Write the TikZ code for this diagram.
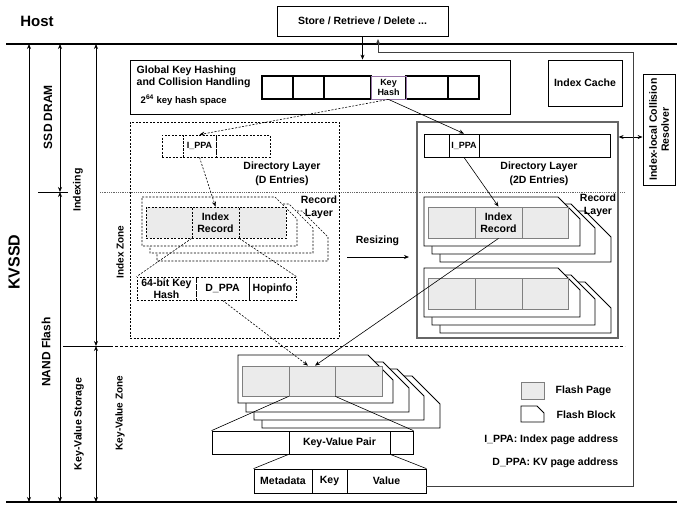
\documentclass[tikz,border=0pt]{standalone}
\usepackage{fontspec}
\setmainfont{Liberation Sans}
\usepackage{tikz}
\usetikzlibrary{
  arrows.meta,
  positioning,
  calc,
}

\definecolor{pagegray}{HTML}{EBEBEB}
\definecolor{edgegray}{HTML}{7F7F7F}
\definecolor{hashpurple}{HTML}{9673A6}

% flash block outline: [style]{left}{top}{right}{bottom}{chamfer}
\newcommand{\flashblk}[6][]{%
  \filldraw[fill=white,#1] (#2,#3) -- ({#4-#6},#3) -- (#4,{#3+#6})
    -- (#4,#5) -- (#2,#5) -- cycle;}

\begin{document}
\begin{tikzpicture}[
  x=1pt, y=-1pt,
  font=\bfseries\fontsize{10.5}{12}\selectfont,
  line width=0.8pt,
  every node/.style={align=center},
  box/.style={draw, inner sep=0pt},
  cell/.style={draw, inner sep=0pt, minimum height=23},
  dcell/.style={cell, dash pattern=on 2pt off 1.5pt},
  page/.style={draw=edgegray, fill=pagegray, inner sep=0pt, minimum height=31},
  dpage/.style={page, draw=black, dash pattern=on 2pt off 1.5pt},
  small/.style={font=\bfseries\fontsize{9}{10}\selectfont},
  vlabel/.style={rotate=90},
  arr/.style={-{Stealth[length=5pt,width=4pt]}},
  dimarr/.style={{Stealth[length=5pt,width=4pt]}-{Stealth[length=5pt,width=4pt]}},
  dline/.style={line width=0.6pt, dash pattern=on 2pt off 1.5pt},
]
\useasboundingbox (0,0) rectangle (677,504);

% host side
\node[font=\bfseries\fontsize{15}{18}\selectfont] (host) at (37,21) {Host};
\node[box, minimum width=171, minimum height=30] (store) at (362.5,21)
  {Store / Retrieve / Delete ...};
\draw[line width=1.1pt] (6,44) -- (677,44);
\draw[line width=1.1pt] (6,502) -- (677,502);

% dimension arrows on the left
\draw[dimarr] (29,44) -- (29,502);
\draw[dimarr] (60,44) -- (60,192);
\draw[dimarr] (60,192) -- (60,502);
\draw (38,192) -- (68,192);
\draw[dimarr] (96,44) -- (96,346);
\draw[dimarr] (96,346) -- (96,502);
\draw (63,346) -- (110,346);
\draw[black!60, densely dotted] (100,192) -- (625,192);
\draw[dash pattern=on 3pt off 2pt] (110,346) -- (625,346);

\node[vlabel, font=\bfseries\fontsize{16}{18}\selectfont] (kvssd) at (14,262) {KVSSD};
\node[vlabel, font=\bfseries\fontsize{12}{14}\selectfont] (dram) at (48,117) {SSD DRAM};
\node[vlabel, font=\bfseries\fontsize{12}{14}\selectfont] (nand) at (46,352) {NAND Flash};
\node[vlabel] (indexing) at (78,190) {Indexing};
\node[vlabel] (kvstore) at (79,424) {Key-Value Storage};
\node[vlabel, font=\bfseries\fontsize{10}{12}\selectfont] (izone) at (120,252) {Index Zone};
\node[vlabel, font=\bfseries\fontsize{10}{12}\selectfont] (kvzone) at (120,413) {Key-Value Zone};

% global key hashing
\node[box, minimum width=380, minimum height=54] (hashbox) at (320,87) {};
\node[anchor=west, align=left, font=\bfseries\fontsize{10.5}{11.6}\selectfont]
  (hashttl) at (133,77) {Global Key Hashing\\and Collision Handling};
\node[anchor=west, font=\bfseries\fontsize{9.5}{11}\selectfont] (hashspace) at (137,100)
  {2\textsuperscript{64} key hash space};
\foreach \nm/\a/\b in {h1/262/293, h2/293/324, h3/324/371, h5/406/448, h6/448/479}
  \node[cell, line width=1.2pt, minimum width=\b-\a] (\nm) at ({(\a+\b)/2},87.5) {};
\node[cell, draw=hashpurple, minimum width=35, small] (keyhash) at (388.5,87.5) {Key\\Hash};

\node[box, minimum width=74, minimum height=46] (idxcache) at (585,83) {Index Cache};
\node[box, minimum width=32, minimum height=111] (resolver) at (659,129.5) {};
\node[vlabel] (resolvertxt) at (resolver.center) {Index-local Collision\\Resolver};

% old index zone (dashed)
\node[box, dash pattern=on 2pt off 1.5pt, minimum width=209, minimum height=216]
  (idxzone) at (234.5,230) {};
\node[dcell, minimum width=21, minimum height=22] (ld1) at (172.5,146) {};
\node[dcell, minimum width=33, minimum height=22, small] (lippa) at (199.5,146) {I\_PPA};
\node[dcell, minimum width=54, minimum height=22] (ld3) at (243,146) {};
\node[font=\bfseries\fontsize{10.5}{13.5}\selectfont] (ldirlbl) at (282,174)
  {Directory Layer\\(D Entries)};

\flashblk[dline]{157}{211}{328}{261}{26}
\flashblk[dline]{150}{204}{313}{253}{24}
\flashblk[dline]{142}{197}{297}{246}{22}
\node[dpage, minimum width=46] (lp1) at (169,222.5) {};
\node[dpage, minimum width=47, font=\bfseries\fontsize{10.5}{12.5}\selectfont]
  (lrec) at (215.5,222.5) {Index\\Record};
\node[dpage, minimum width=47] (lp3) at (262.5,222.5) {};
\node[font=\bfseries\fontsize{10.5}{13}\selectfont] (lreclbl) at (319,207.5) {Record\\Layer};

\node[dcell, minimum width=59] (f1) at (166.5,288.5) {64-bit Key\\Hash};
\node[dcell, minimum width=53] (dppa) at (222.5,288.5) {D\_PPA};
\node[dcell, minimum width=47] (f3) at (272.5,288.5) {Hopinfo};
\draw[dline] (lrec.south west) -- (f1.north west);
\draw[dline] (lrec.south east) -- (f3.north east);

% resized index
\node[box, draw=black!60, line width=1.2pt, minimum width=201, minimum height=216]
  (newidx) at (517.5,230) {};
\node[cell, minimum width=25] (rd1) at (436.5,145.5) {};
\node[cell, minimum width=30, small] (rippa) at (464,145.5) {I\_PPA};
\node[cell, minimum width=131] (rd3) at (544.5,145.5) {};
\node[font=\bfseries\fontsize{10.5}{13.5}\selectfont] (rdirlbl) at (539,174)
  {Directory Layer\\(2D Entries)};

\flashblk{440}{211}{611}{262}{26}
\flashblk{432}{204}{595}{254}{24}
\flashblk{424}{197}{580}{246}{22}
\node[page, minimum width=47] (rp1) at (451.5,222.5) {};
\node[page, minimum width=47, font=\bfseries\fontsize{10.5}{12.5}\selectfont]
  (rrec) at (498.5,222.5) {Index\\Record};
\node[page, minimum width=46] (rp3) at (545,222.5) {};
\node[font=\bfseries\fontsize{10.5}{13}\selectfont] (rreclbl) at (598,205.5) {Record\\Layer};

\flashblk{440}{282}{611}{333}{26}
\flashblk{432}{275}{595}{325}{24}
\flashblk{424}{268}{580}{317}{22}
\foreach \nm/\c/\w in {rq1/451.5/47, rq2/498.5/47, rq3/545/46}
  \node[page, minimum width=\w] (\nm) at (\c,293.5) {};

\node (resizing) at (377.5,241) {Resizing};
\coordinate (rsA) at (347,257);
\coordinate (rsB) at (409,257);
\draw[arr] (rsA) -- (rsB);

% key-value zone
\flashblk{262}{376}{440}{428}{28}
\flashblk{254}{369}{424}{420}{27}
\flashblk{246}{362}{409}{412}{26}
\flashblk{238}{355}{393}{403}{25}
\node[page, minimum width=47, minimum height=30] (kvp1) at (265.5,381) {};
\node[page, minimum width=46, minimum height=30] (kvmid) at (312,381) {};
\node[page, minimum width=47, minimum height=30] (kvp3) at (358.5,381) {};

\node[cell, minimum width=77] (kv1) at (250.5,442.5) {};
\node[cell, minimum width=101] (kvpair) at (339.5,442.5) {Key-Value Pair};
\node[cell, minimum width=23] (kv3) at (401.5,442.5) {};
\draw[line width=0.6pt] (kvmid.south west) -- (kv1.north west);
\draw[line width=0.6pt] (kvmid.south east) -- (kv3.north east);

\node[cell, minimum width=58, minimum height=24] (meta) at (283,481) {Metadata};
\node[cell, minimum width=35, minimum height=24] (keyc) at (329.5,481) {Key};
\node[cell, minimum width=79, minimum height=24] (value) at (386.5,481) {Value};
\draw[line width=0.6pt] (kvpair.south west) -- (meta.north west);
\draw[line width=0.6pt] (kvpair.south east) -- (value.north east);

% request flow
\draw[arr] (store.south) -- (store.south |- hashbox.north);
\draw[arr, line width=0.6pt] (keyhash.south) -- (rippa.north);
\draw[arr, dline] (keyhash.south) -- (lippa.north);
\draw[arr, dline] (lippa.south) -- (lrec.north);
\draw[arr, line width=0.6pt] (rippa.south) -- (rrec.north);
\draw[arr, dline] (dppa.south) -- ($(kvmid.north)+(-4,0)$);
\draw[arr, line width=0.6pt] (rrec.south) -- ($(kvmid.north)+(3,0)$);

\coordinate (rlink) at (630,137);
\draw[dimarr] (rlink -| newidx.east) -- (rlink -| resolver.west);

\coordinate (retB) at (633,486);
\coordinate (retT) at (633,52);
\coordinate (retL) at (378,52);
\coordinate (retEnd) at (378,39);
\draw[arr, draw=black!75, line width=1pt] (value.east |- retB) -- (retB) -- (retT)
  -- (retL) -- (retEnd);

% legend
\node[page, minimum width=23, minimum height=17] (lgpage) at (532.5,390.5) {};
\node[anchor=west] (lgpagetxt) at (552,391) {Flash Page};
\flashblk{521}{406}{544}{422}{7}
\node[anchor=west] (lgblocktxt) at (553,415) {Flash Block};
\node[anchor=east] (lgippa) at (622,440) {I\_PPA: Index page address};
\node[anchor=east] (lgdppa) at (622,463) {D\_PPA: KV page address};

\end{tikzpicture}
\end{document}
